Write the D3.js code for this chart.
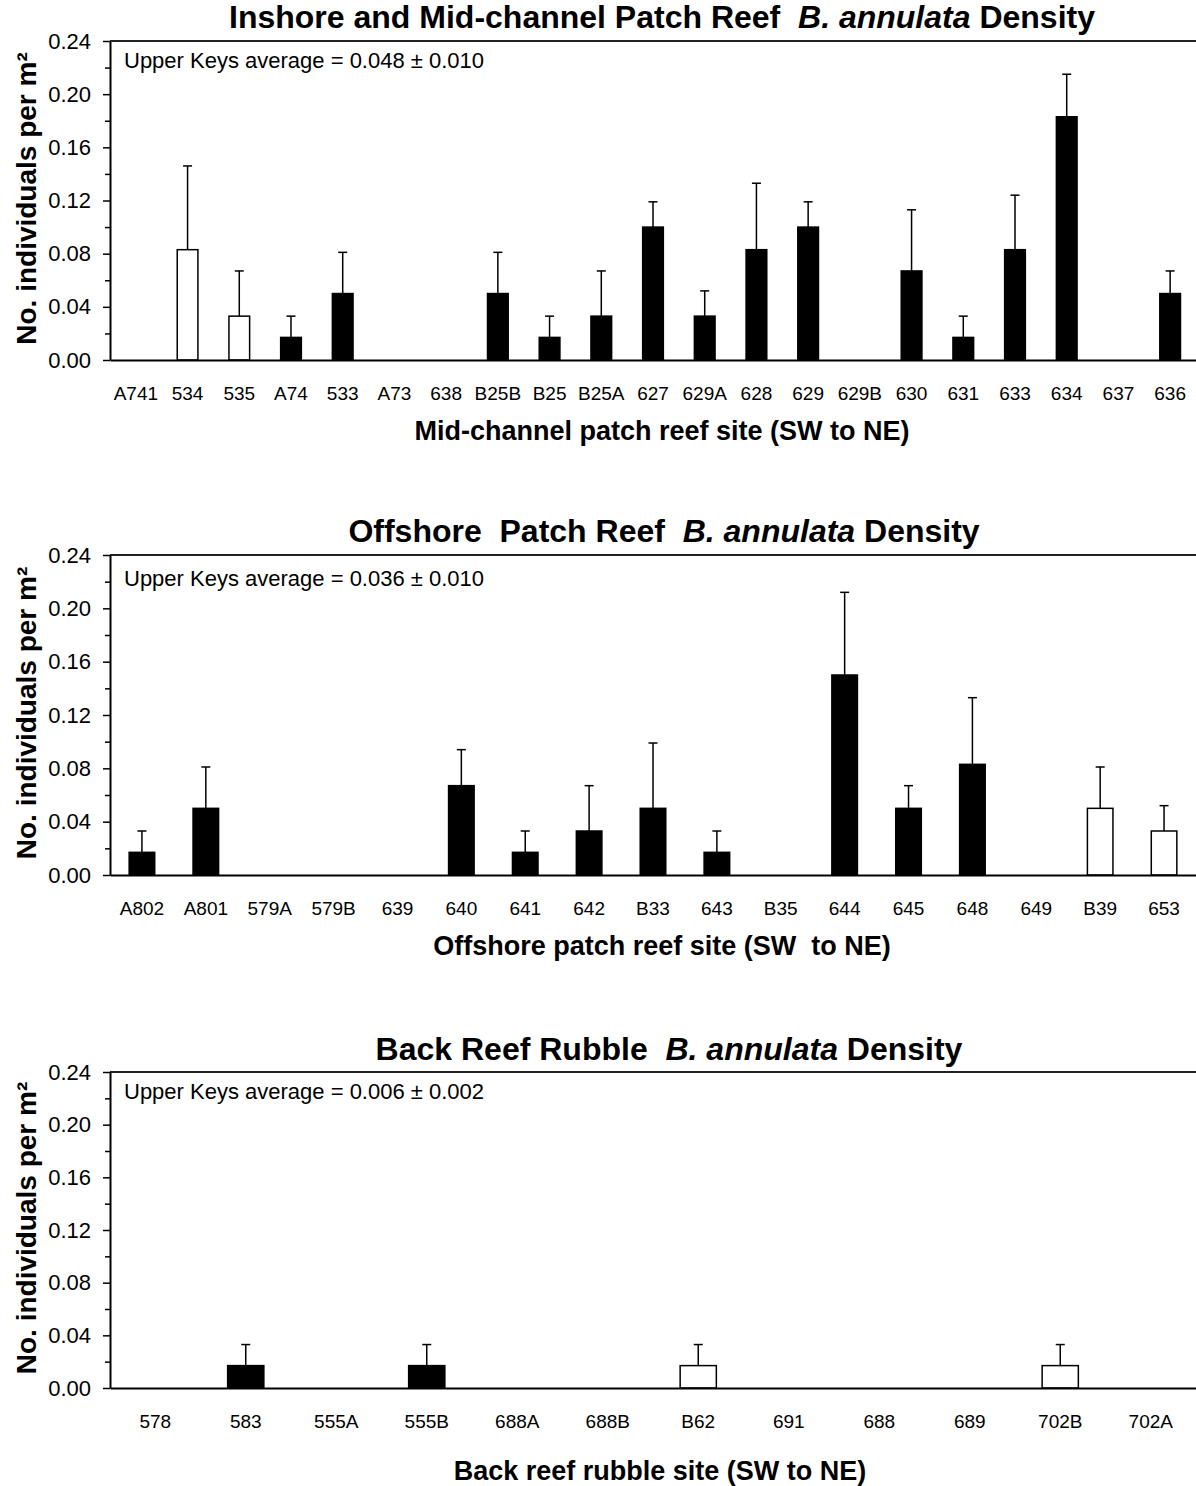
<!DOCTYPE html>
<html>
<head>
<meta charset="utf-8">
<script src="https://cdn.jsdelivr.net/npm/d3@7"></script>
<style>
  html, body { margin: 0; padding: 0; background: #fff; }
  svg text { font-family: "Liberation Sans", Arial, Helvetica, sans-serif; fill: #000; white-space: pre; }
</style>
</head>
<body>
<svg id="fig" width="1196" height="1486"></svg>
<script>
// Mid-channel / inshore patch reef sites (SW to NE)
const inshoreSites = ["A741","534","535","A74","533","A73","638","B25B","B25","B25A","627","629A","628","629","629B","630","631","633","634","637","636"];
const inshoreMeans = [0,0.083,0.033,0.017,0.050,0,0,0.050,0.017,0.033,0.100,0.033,0.083,0.100,0,0.067,0.017,0.083,0.183,0,0.050];
const inshoreErrors = [0,0.063,0.034,0.016,0.031,0,0,0.031,0.016,0.034,0.019,0.019,0.050,0.019,0,0.046,0.016,0.041,0.032,0,0.017];
const inshoreOpen = ["534","535"];

// Offshore patch reef sites (SW to NE)
const offshoreSites = ["A802","A801","579A","579B","639","640","641","642","B33","643","B35","644","645","648","649","B39","653"];
const offshoreMeans = [0.017,0.050,0,0,0,0.067,0.017,0.033,0.050,0.017,0,0.150,0.050,0.083,0,0.050,0.033];
const offshoreErrors = [0.016,0.031,0,0,0,0.027,0.016,0.034,0.049,0.016,0,0.062,0.017,0.050,0,0.031,0.019];
const offshoreOpen = ["B39","653"];

// Back reef rubble sites (SW to NE)
const rubbleSites = ["578","583","555A","555B","688A","688B","B62","691","688","689","702B","702A"];
const rubbleMeans = [0,0.017,0,0.017,0,0,0.017,0,0,0,0.017,0];
const rubbleErrors = [0,0.016,0,0.016,0,0,0.016,0,0,0,0.016,0];
const rubbleOpen = ["B62","702B"];

// Shared y axis ticks
const yMajorTicks = [0,0.04,0.08,0.12,0.16,0.20,0.24];
const yMinorTicks = [0.02,0.06,0.10,0.14,0.18,0.22];

const panels = [
  { sites: inshoreSites, means: inshoreMeans, errors: inshoreErrors, open: inshoreOpen,
    title: ["Inshore and Mid-channel Patch Reef  ", "B. annulata", " Density"],
    average: "Upper Keys average = 0.048 \u00B1 0.010",
    xTitle: "Mid-channel patch reef site (SW to NE)",
    top: 41, bottom: 360, titleX: 662, titleY: 28, avgY: 68, xTitleY: 440, xTitleX: 662 },
  { sites: offshoreSites, means: offshoreMeans, errors: offshoreErrors, open: offshoreOpen,
    title: ["Offshore  Patch Reef  ", "B. annulata", " Density"],
    average: "Upper Keys average = 0.036 \u00B1 0.010",
    xTitle: "Offshore patch reef site (SW  to NE)",
    top: 555, bottom: 875, titleX: 664, titleY: 542, avgY: 586, xTitleY: 955, xTitleX: 662 },
  { sites: rubbleSites, means: rubbleMeans, errors: rubbleErrors, open: rubbleOpen,
    title: ["Back Reef Rubble  ", "B. annulata", " Density"],
    average: "Upper Keys average = 0.006 \u00B1 0.002",
    xTitle: "Back reef rubble site (SW to NE)",
    top: 1072, bottom: 1388, titleX: 669, titleY: 1060, avgY: 1099, xTitleY: 1480, xTitleX: 660 }
];

const left = 110, right = 1196;
const svg = d3.select("#fig");

panels.forEach(p => {
  const g = svg.append("g");
  const x = d3.scaleBand().domain(p.sites).range([left, right]).paddingInner(0.6).paddingOuter(0.3);
  const y = d3.scaleLinear().domain([0, 0.24]).range([p.bottom, p.top]);

  // top frame line
  g.append("line")
    .attr("x1", left).attr("x2", right)
    .attr("y1", y(0.24)).attr("y2", y(0.24))
    .attr("stroke", "#222").attr("stroke-width", 2);

  // bars
  const rows = p.sites.map((s, i) => ({ site: s, mean: p.means[i], err: p.errors[i] }));
  g.selectAll("rect.bar").data(rows).join("rect")
    .attr("class", "bar")
    .attr("x", d => x(d.site))
    .attr("width", x.bandwidth())
    .attr("y", d => y(d.mean))
    .attr("height", d => y(0) - y(d.mean))
    .attr("fill", d => p.open.includes(d.site) ? "#fff" : "#000")
    .attr("stroke", "#000").attr("stroke-width", 1.5);

  // error bars (upper only)
  const eb = rows.filter(d => d.err > 0);
  g.selectAll("line.err").data(eb).join("line")
    .attr("class", "err")
    .attr("x1", d => x(d.site) + x.bandwidth() / 2)
    .attr("x2", d => x(d.site) + x.bandwidth() / 2)
    .attr("y1", d => y(d.mean))
    .attr("y2", d => y(d.mean + d.err))
    .attr("stroke", "#000").attr("stroke-width", 1.5);
  g.selectAll("line.cap").data(eb).join("line")
    .attr("class", "cap")
    .attr("x1", d => x(d.site) + x.bandwidth() / 2 - 4.5)
    .attr("x2", d => x(d.site) + x.bandwidth() / 2 + 4.5)
    .attr("y1", d => y(d.mean + d.err))
    .attr("y2", d => y(d.mean + d.err))
    .attr("stroke", "#000").attr("stroke-width", 1.5);

  // x axis
  const xa = g.append("g").attr("transform", `translate(0,${y(0)})`)
    .call(d3.axisBottom(x).tickSize(0).tickSizeOuter(0));
  xa.select(".domain").attr("stroke", "#000").attr("stroke-width", 2);
  xa.selectAll("text").attr("y", 40).attr("dy", 0)
    .style("font-size", "19px");

  // y axis: minor then major ticks
  const yMinor = g.append("g").attr("transform", `translate(${left},0)`)
    .call(d3.axisLeft(y).tickValues(yMinorTicks).tickSize(5).tickFormat(""));
  yMinor.select(".domain").remove();
  yMinor.selectAll("line").attr("stroke-width", 1.5);
  const ya = g.append("g").attr("transform", `translate(${left},0)`)
    .call(d3.axisLeft(y).tickValues(yMajorTicks).tickSize(7).tickSizeOuter(0).tickPadding(12).tickFormat(d3.format(".2f")));
  ya.select(".domain").attr("stroke", "#000").attr("stroke-width", 2);
  ya.selectAll("line").attr("stroke-width", 1.5);
  ya.selectAll("text").style("font-size", "22px");

  // y axis title
  const yt = g.append("text")
    .attr("transform", `translate(36,${(p.top + p.bottom) / 2 - 2}) rotate(-90)`)
    .attr("text-anchor", "middle")
    .style("font-size", "28px").style("font-weight", "bold");
  yt.text("No. individuals per m\u00B2");

  // chart title with italic species name
  const t = g.append("text")
    .attr("x", p.titleX).attr("y", p.titleY)
    .attr("text-anchor", "middle")
    .style("font-size", "32px").style("font-weight", "bold");
  t.append("tspan").text(p.title[0]);
  t.append("tspan").style("font-style", "italic").text(p.title[1]);
  t.append("tspan").text(p.title[2]);

  // regional average note
  g.append("text")
    .attr("x", 124).attr("y", p.avgY)
    .style("font-size", "22px")
    .text(p.average);

  // x axis title
  g.append("text")
    .attr("x", p.xTitleX).attr("y", p.xTitleY)
    .attr("text-anchor", "middle")
    .style("font-size", "27px").style("font-weight", "bold")
    .text(p.xTitle);
});
</script>
</body>
</html>
